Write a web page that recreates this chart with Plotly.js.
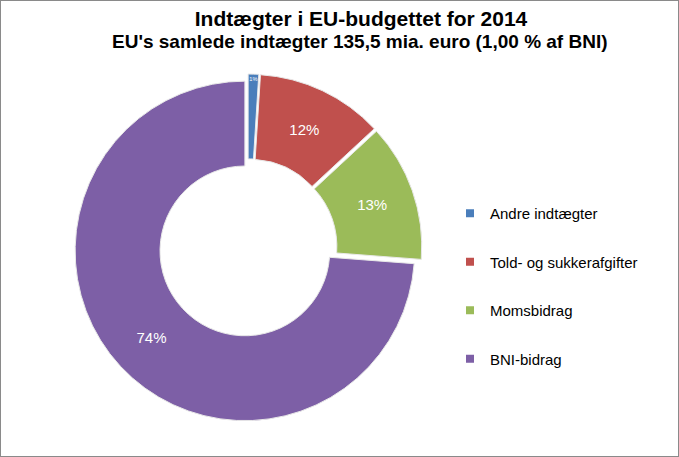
<!DOCTYPE html>
<html>
<head>
<meta charset="utf-8">
<script src="https://cdn.plot.ly/plotly-3.0.1.min.js"></script>
<style>
html,body{margin:0;padding:0;background:#fff;}
#chart{width:677px;height:455px;border:1px solid #8a8a8a;}
</style>
</head>
<body>
<div id="chart"></div>
<script>
const labels = ['Andre indtægter', 'Told- og sukkerafgifter', 'Momsbidrag', 'BNI-bidrag'];
const values = [1.0, 12.1, 13.1, 73.8];
const titleText = 'Indtægter i EU-budgettet for 2014';
const subtitleText = "EU's samlede indtægter 135,5 mia. euro (1,00 % af BNI)";

const colors = ['#4A7EBB', '#C0504D', '#9BBB59', '#7D5FA6'];
const W = 677, H = 455;

const cx = 247, cy = 247, half = 174;
const pie = {
  type: 'pie',
  labels: labels,
  values: values,
  hole: 0.5,
  sort: false,
  direction: 'clockwise',
  rotation: 0,
  pull: [0.025, 0.025, 0.025, 0.025],
  marker: {colors: colors, line: {color: '#e8e8e8', width: 1}},
  texttemplate: '%{percent:.0%}',
  textposition: 'inside',
  insidetextorientation: 'horizontal',
  textfont: {family: 'Arial, Liberation Sans, sans-serif', size: 15, color: '#ffffff'},
  showlegend: false,
  hoverinfo: 'none',
  domain: {x: [(cx - half) / W, (cx + half) / W], y: [(H - cy - half) / H, (H - cy + half) / H]}
};

const legendTraces = labels.map((name, i) => ({
  type: 'scatter',
  mode: 'markers',
  x: [null], y: [null],
  name: name,
  legendgroup: 'g' + i,
  marker: {symbol: 'square', size: 8, color: colors[i], line: {color: '#ffffff', width: 0}},
  hoverinfo: 'none'
}));

const layout = {
  width: W, height: H,
  margin: {l: 0, r: 0, t: 0, b: 0},
  paper_bgcolor: '#ffffff',
  plot_bgcolor: '#ffffff',
  xaxis: {visible: false},
  yaxis: {visible: false},
  showlegend: true,
  legend: {
    x: 449 / W, xanchor: 'left',
    y: 1 - 196 / H, yanchor: 'top',
    font: {family: 'Arial, Liberation Sans, sans-serif', size: 15, color: '#000000'},
    tracegroupgap: 26,
    bgcolor: 'rgba(0,0,0,0)'
  },
  title: {
    text: '<b>' + titleText + '</b>',
    x: 360 / W, xanchor: 'center',
    y: 1 - 18 / H, yanchor: 'middle', yref: 'container',
    font: {family: 'Arial, Liberation Sans, sans-serif', size: 21, color: '#000000'}
  },
  annotations: [{
    text: '<b>' + subtitleText + '</b>',
    xref: 'paper', yref: 'paper',
    x: 359 / W, xanchor: 'center',
    y: 1 - 40 / H, yanchor: 'middle',
    showarrow: false,
    font: {family: 'Arial, Liberation Sans, sans-serif', size: 19, color: '#000000'}
  }]
};

Plotly.newPlot('chart', [pie].concat(legendTraces), layout, {displayModeBar: false, staticPlot: true});
</script>
</body>
</html>
